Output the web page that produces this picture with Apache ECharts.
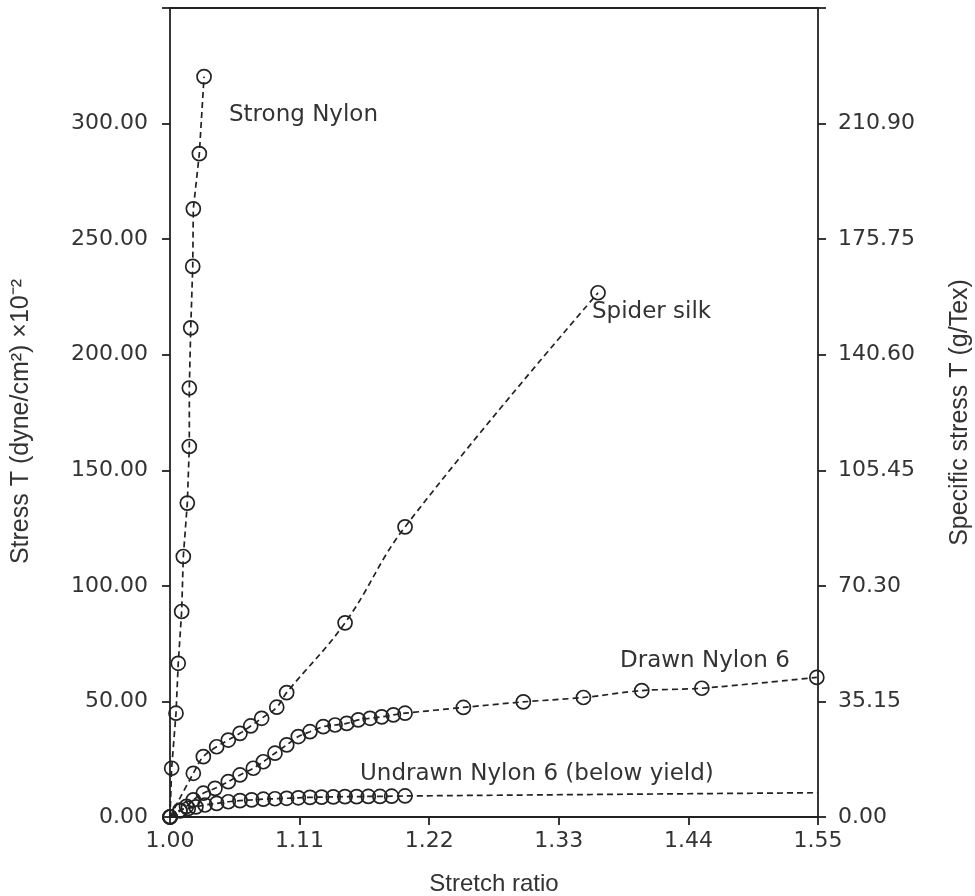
<!DOCTYPE html>
<html>
<head>
<meta charset="utf-8">
<script src="https://cdn.jsdelivr.net/npm/echarts@6/dist/echarts.min.js"></script>
<style>
html,body{margin:0;padding:0;background:#fff;}
#chart{width:975px;height:896px;}
</style>
</head>
<body>
<div id="chart"></div>
<script>
// ---- data ----
var xTicks = [1.00, 1.11, 1.22, 1.33, 1.44, 1.55];

var strongX = [1.000, 1.0014, 1.0051, 1.0070, 1.0099, 1.0113, 1.0147, 1.0164, 1.0164, 1.0176, 1.0193, 1.0198, 1.0249, 1.0289];
var strongY = [0, 21.1, 44.9, 66.5, 88.9, 112.7, 135.8, 160.3, 185.6, 211.6, 238.2, 263.1, 287.0, 320.3];

var spiderX = [1.000, 1.0198, 1.0283, 1.0396, 1.0495, 1.0594, 1.0685, 1.0778, 1.0906, 1.0990, 1.1486, 1.1995, 1.3633];
var spiderY = [0, 18.9, 26.1, 30.4, 33.3, 36.2, 39.4, 42.7, 47.5, 53.8, 84.0, 125.5, 226.8];

var drawnX = [1.000, 1.0085, 1.0140, 1.0198, 1.0283, 1.0382, 1.0495, 1.0594, 1.0707, 1.0792, 1.0891, 1.0991, 1.1089, 1.1188, 1.1301, 1.1401, 1.1500, 1.1598, 1.1698, 1.1797, 1.1896, 1.1995, 1.2490, 1.2999, 1.3509, 1.4004, 1.4514, 1.5490];
var drawnY = [0, 2.6, 4.6, 7.4, 10.3, 12.4, 15.3, 18.2, 21.1, 23.9, 27.6, 31.2, 34.8, 36.9, 39.1, 39.8, 40.5, 42.0, 42.7, 43.3, 44.2, 44.9, 47.4, 49.8, 51.7, 54.7, 55.7, 60.4];

var undrawnX = [1.000, 1.0085, 1.0155, 1.0220, 1.0297, 1.0396, 1.0495, 1.0594, 1.0693, 1.0792, 1.0891, 1.0990, 1.1089, 1.1188, 1.1287, 1.1386, 1.1485, 1.1584, 1.1683, 1.1782, 1.1881, 1.1995, 1.5500];
var undrawnY = [0, 3.0, 3.7, 4.4, 5.2, 5.9, 6.6, 7.1, 7.4, 7.7, 7.9, 8.1, 8.3, 8.5, 8.6, 8.7, 8.8, 8.8, 8.9, 8.9, 9.0, 9.1, 10.5];

var seriesLabels = ['Strong Nylon', 'Spider silk', 'Drawn Nylon 6', 'Undrawn Nylon 6 (below yield)'];
var xName = 'Stretch ratio';
var yLeftName = 'Stress T (dyne/cm\u00B2) \u00D710\u207B\u00B2';
var yRightName = 'Specific stress T (g/Tex)';
var leftMax = 350, leftInterval = 50;
var rightMax = 246.05, rightInterval = 35.15;

function zip(xs, ys) { return xs.map(function (x, i) { return [x, ys[i]]; }); }

var ink = '#222222';
var txt = '#333333';
var tickFont = 'DejaVu Sans';

function mkSeries(name, xs, ys, smooth, lastNoSymbol) {
  return {
    name: name,
    type: 'line',
    data: zip(xs, ys),
    smooth: smooth,
    clip: false,
    symbol: function (v, p) {
      return (lastNoSymbol && p.dataIndex === xs.length - 1) ? 'none' : 'circle';
    },
    symbolSize: 14,
    itemStyle: { color: 'rgba(0,0,0,0)', borderColor: ink, borderWidth: 1.7 },
    lineStyle: { color: ink, width: 1.7, type: [6, 4] },
    emphasis: { disabled: true },
    animation: false
  };
}

var chart = echarts.init(document.getElementById('chart'), null, { renderer: 'canvas' });
chart.setOption({
  backgroundColor: '#ffffff',
  animation: false,
  grid: { left: 170, right: 157, top: 8, bottom: 79, containLabel: false, outerBoundsMode: 'none' },
  xAxis: [{
    type: 'value', min: 1.00, max: 1.55,
    name: xName, nameLocation: 'middle', nameGap: 55,
    nameTextStyle: { fontFamily: 'Liberation Sans', fontSize: 24, color: txt },
    axisLine: { show: true, lineStyle: { color: ink, width: 1.8 } },
    axisTick: { show: true, inside: false, length: 8, customValues: xTicks, lineStyle: { color: ink, width: 1.8 } },
    axisLabel: { customValues: xTicks, margin: 13, fontFamily: tickFont, fontSize: 22, color: txt,
      formatter: function (v) { return Number(v).toFixed(2); } },
    splitLine: { show: false }
  }, {
    type: 'value', position: 'top', min: 1.00, max: 1.55,
    axisLine: { show: true, onZero: false, lineStyle: { color: ink, width: 1.8 } },
    axisTick: { show: false }, axisLabel: { show: false }, splitLine: { show: false }
  }],
  yAxis: [{
    type: 'value', position: 'left', min: 0, max: leftMax, interval: leftInterval,
    name: yLeftName, nameLocation: 'middle', nameGap: 136, nameRotate: 90,
    nameTextStyle: { fontFamily: 'Liberation Sans', fontSize: 25, color: txt, padding: [0, 18, 0, 0] },
    axisLine: { show: true, lineStyle: { color: ink, width: 1.8 } },
    axisTick: { show: true, length: 8, lineStyle: { color: ink, width: 1.8 } },
    axisLabel: { margin: 22, fontFamily: tickFont, fontSize: 22, color: txt,
      formatter: function (v) { return v >= leftMax ? '' : Number(v).toFixed(2); } },
    splitLine: { show: false }
  }, {
    type: 'value', position: 'right', min: 0, max: rightMax, interval: rightInterval,
    name: yRightName, nameLocation: 'middle', nameGap: 130, nameRotate: 90,
    nameTextStyle: { fontFamily: 'Liberation Sans', fontSize: 25, color: txt },
    axisLine: { show: true, lineStyle: { color: ink, width: 1.8 } },
    axisTick: { show: true, length: 8, lineStyle: { color: ink, width: 1.8 } },
    axisLabel: { margin: 20, fontFamily: tickFont, fontSize: 22, color: txt,
      formatter: function (v) { return v > rightMax - 1 ? '' : Number(v).toFixed(2); } },
    splitLine: { show: false }
  }],
  series: [
    mkSeries(seriesLabels[0], strongX, strongY, false, false),
    mkSeries(seriesLabels[1], spiderX, spiderY, 0.4, false),
    mkSeries(seriesLabels[2], drawnX, drawnY, 0.3, false),
    mkSeries(seriesLabels[3], undrawnX, undrawnY, 0.2, true)
  ],
  graphic: [
    { type: 'text', left: 229, top: 104, style: { text: seriesLabels[0], font: '23px "DejaVu Sans"', fill: txt } },
    { type: 'text', left: 592, top: 301, style: { text: seriesLabels[1], font: '23px "DejaVu Sans"', fill: txt } },
    { type: 'text', left: 620, top: 650, style: { text: seriesLabels[2], font: '23px "DejaVu Sans"', fill: txt } },
    { type: 'text', left: 360, top: 763, style: { text: seriesLabels[3], font: '23px "DejaVu Sans"', fill: txt } }
  ]
});
</script>
</body>
</html>
